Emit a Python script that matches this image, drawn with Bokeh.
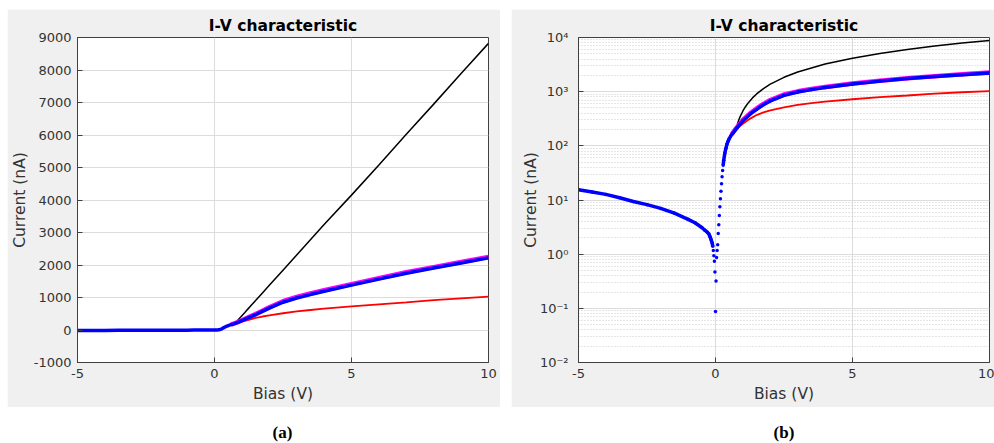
import numpy as np
from bokeh.plotting import figure
from bokeh.layouts import row, column
from bokeh.models import FixedTicker, Range1d, Spacer
from bokeh.embed import file_html
from bokeh.resources import INLINE
from bokeh.core.properties import value

# ---------------- data ----------------
blue_v = [-5.0, -4.5, -4.0, -3.5, -3.0, -2.5, -2.0, -1.5, -1.0, -0.75, -0.5, -0.4,
          -0.3, -0.24, -0.2, -0.16, -0.12, -0.10, -0.08, -0.06, -0.04, -0.02, 0.0,
          0.02, 0.04, 0.06, 0.08, 0.10, 0.12, 0.14, 0.16, 0.18, 0.20, 0.22, 0.24,
          0.26, 0.28, 0.30, 0.34, 0.38, 0.42, 0.46, 0.50, 0.55, 0.60, 0.65, 0.70,
          0.75, 0.80, 0.90, 1.0, 1.25, 1.5, 1.75, 2.0, 2.5, 3.0, 3.5, 4.0, 5.0, 6.0,
          7.0, 8.0, 9.0, 10.0]
blue_i = [-15.4, -14.0, -12.7, -11.0, -9.4, -8.2, -7.0, -5.7, -4.4, -3.8, -3.1, -2.8,
          -2.55, -2.35, -2.1, -1.85, -1.6, -1.4, -1.17, -0.93, -0.74, -0.47, -0.087,
          0.32, 0.87, 1.17, 1.5, 2.4, 3.5, 5.2, 7.5, 10.5, 14.5, 20, 27,
          35, 44, 54, 73, 90, 108, 122, 135, 150, 163, 176, 190,
          205, 220, 252, 290, 380, 470, 575, 675, 855, 985, 1090, 1190, 1380, 1565,
          1745, 1905, 2060, 2220]

magenta_v = [0.6, 0.75, 0.9, 1.0, 1.25, 1.5, 1.75, 2.0, 2.5, 3.0, 3.5, 4.0, 5.0, 6.0,
             7.0, 8.0, 9.0, 10.0]
magenta_i = [165, 210, 260, 300, 395, 490, 595, 700, 885, 1015, 1125, 1225, 1410, 1595,
             1775, 1935, 2090, 2250]

red_v = [0.75, 0.85, 1.0, 1.25, 1.5, 1.75, 2.0, 2.5, 3.0, 3.5, 4.0, 5.0, 6.0, 7.0, 8.0,
         9.0, 10.0]
red_i = [205, 225, 255, 315, 370, 415, 450, 515, 570, 615, 655, 725, 790, 850, 920,
         975, 1025]

black_v = [0.75, 0.8, 0.85, 0.9, 1.0, 1.1, 1.2, 1.35, 1.5, 1.75, 2.0, 2.5, 3.0, 4.0,
           5.0, 6.0, 7.0, 8.0, 9.0, 10.0]
black_i = [205, 252, 299, 346, 440, 533, 627, 767, 907, 1141, 1375, 1842, 2310, 3245,
           4150, 5080, 6020, 6950, 7890, 8820]

x_ticks = [-5, 0, 5, 10]
x_labels = ["-5", "0", "5", "10"]
lin_y_ticks = [-1000, 0, 1000, 2000, 3000, 4000, 5000, 6000, 7000, 8000, 9000]
lin_y_labels = ["-1000", "0", "1000", "2000", "3000", "4000", "5000", "6000", "7000",
                "8000", "9000"]
log_y_ticks = [1e-2, 1e-1, 1e0, 1e1, 1e2, 1e3, 1e4]
log_y_labels = ["10\u207b\u00b2", "10\u207b\u00b9", "10\u2070", "10\u00b9", "10\u00b2",
                "10\u00b3", "10\u2074"]
panel_labels = ["(a)", "(b)"]
title_text = "I-V characteristic"

# ---------------- styling / layout ----------------
BG = "#f0f0f0"
TXT = "#333333"
AX = "#404040"
GRID = "#dcdcdc"
FONT = "DejaVu Sans"

OX, OY = 7, 9            # offset of the panels on the page
W1, W2, H = 493, 483, 398
GAP = 11
L1, R1, L2, R2, T, B = 69, 12, 67, 5, 28, 45
LH = 443 - OY - H        # caption strip height


def style(p, ylab_standoff):
    p.background_fill_color = "white"
    p.border_fill_color = BG
    p.outline_line_color = AX
    p.outline_line_width = 1
    p.title.text_font = FONT
    p.title.text_font_size = "15.5px"
    p.title.text_font_style = "bold"
    p.title.align = "center"
    p.title.text_color = "black"
    p.title.standoff = 5
    for ax in (p.xaxis[0], p.yaxis[0]):
        ax.axis_line_color = AX
        ax.major_tick_line_color = AX
        ax.major_tick_in = 5
        ax.major_tick_out = 0
        ax.minor_tick_line_color = None
        ax.major_label_text_font = FONT
        ax.major_label_text_font_size = "13px"
        ax.major_label_text_color = TXT
        ax.axis_label_text_font = FONT
        ax.axis_label_text_font_size = "15.5px"
        ax.axis_label_text_font_style = "normal"
        ax.axis_label_text_color = TXT
        ax.major_label_standoff = 6
    p.xaxis.axis_label_standoff = 4
    p.yaxis.axis_label_standoff = ylab_standoff
    p.xaxis.ticker = FixedTicker(ticks=x_ticks)
    p.xaxis.major_label_overrides = dict(zip(x_ticks, x_labels))
    p.xgrid.grid_line_color = GRID
    p.ygrid.grid_line_color = GRID


bv = np.array(blue_v)
bi = np.array(blue_i)

# ---------------- panel (a): linear ----------------
p1 = figure(width=W1, height=H, x_range=Range1d(-5, 10), y_range=Range1d(-1000, 9000),
            title=title_text, x_axis_label="Bias (V)", y_axis_label="Current (nA)",
            output_backend="svg", toolbar_location=None,
            min_border_left=L1, min_border_right=R1, min_border_top=T, min_border_bottom=B)
style(p1, 2)
p1.yaxis.ticker = FixedTicker(ticks=lin_y_ticks)
p1.yaxis.major_label_overrides = dict(zip(lin_y_ticks, lin_y_labels))
p1.line(black_v, black_i, color="#000000", line_width=1.5)
p1.line(red_v, red_i, color="#ff0000", line_width=1.8)
p1.line(magenta_v, magenta_i, color="#ff00ff", line_width=4.5)
p1.line(bv, bi, color="#0000ff", line_width=3.5)

# ---------------- panel (b): log ----------------
p2 = figure(width=W2, height=H, x_range=Range1d(-5, 10), y_range=Range1d(1e-2, 1e4),
            y_axis_type="log",
            title=title_text, x_axis_label="Bias (V)", y_axis_label="Current (nA)",
            output_backend="svg", toolbar_location=None,
            min_border_left=L2, min_border_right=R2, min_border_top=T, min_border_bottom=B)
style(p2, -3)
minor = [m * t for t in log_y_ticks[:-1] for m in range(2, 10)]
p2.yaxis.ticker = FixedTicker(ticks=log_y_ticks, minor_ticks=minor)
p2.yaxis.major_label_overrides = dict(zip(log_y_ticks, log_y_labels))
p2.ygrid.minor_grid_line_color = "#cccccc"
p2.ygrid.minor_grid_line_dash = "1 2"
p2.ygrid.minor_grid_line_width = 1

abs_i = np.abs(bi)
neg = bv <= -0.1
pos = bv >= 0.28
p2.line(black_v, black_i, color="#000000", line_width=1.5)
p2.line(red_v, red_i, color="#ff0000", line_width=1.8)
p2.line(magenta_v, magenta_i, color="#ff00ff", line_width=4.5)
p2.line(bv[neg], abs_i[neg], color="#0000ff", line_width=3.5)
p2.line(bv[pos], abs_i[pos], color="#0000ff", line_width=3.5)
p2.scatter(bv, abs_i, marker="circle", size=3.5, color="#0000ff", line_color=None)

# ---------------- sub-captions ----------------
TW = W1 + GAP + W2
pl = figure(width=TW, height=LH, x_range=Range1d(0, TW), y_range=Range1d(0, LH),
            x_axis_location=None, y_axis_location=None,
            output_backend="svg", toolbar_location=None, min_border=0)
pl.grid.visible = False
pl.outline_line_color = None
pl.background_fill_color = "white"
pl.border_fill_color = "white"
cx = [L1 + (W1 - L1 - R1) / 2, W1 + GAP + L2 + (W2 - L2 - R2) / 2]
cy = LH - 25
pl.text(x=cx, y=[cy, cy], text=panel_labels, text_font=value("Liberation Serif"),
        text_font_style="bold", text_font_size="17px", text_align="center",
        text_baseline="middle", text_color="black")

layout = column(
    Spacer(width=OX + TW, height=OY),
    row(Spacer(width=OX, height=H), p1, Spacer(width=GAP, height=H), p2),
    row(Spacer(width=OX, height=LH), pl),
)
open("out.html", "w").write(file_html(layout, INLINE))
